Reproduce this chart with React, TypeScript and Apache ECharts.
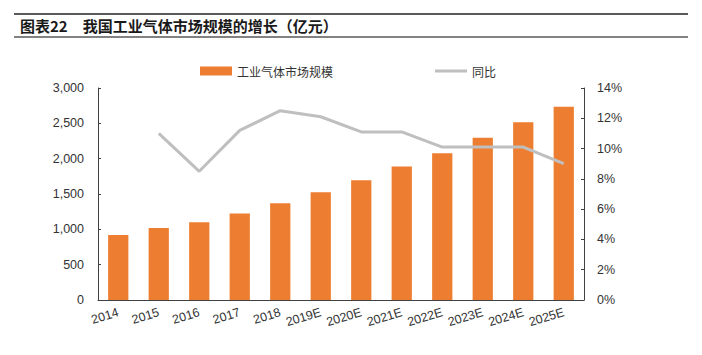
import React, { useEffect, useRef } from "react";
import * as echarts from "echarts";

const categories = ["2014", "2015", "2016", "2017", "2018", "2019E", "2020E", "2021E", "2022E", "2023E", "2024E", "2025E"];
const marketSize = [920, 1020, 1100, 1225, 1370, 1525, 1695, 1888, 2076, 2295, 2514, 2736];
const yoy = [null, 11.0, 8.5, 11.2, 12.5, 12.1, 11.1, 11.1, 10.1, 10.1, 10.1, 9.0];
const leftTicks = [0, 500, 1000, 1500, 2000, 2500, 3000];
const rightTicks = [0, 2, 4, 6, 8, 10, 12, 14];

const FONT = "'Liberation Sans', Arial, 'Noto Sans CJK SC', sans-serif";
const AXIS_COLOR = "#404040";
const LABEL_COLOR = "#333333";

export default function App() {
  const ref = useRef<HTMLDivElement>(null);
  useEffect(() => {
    const chart = echarts.init(ref.current!, null, { renderer: "svg" });
    chart.setOption({
      animation: false,
      backgroundColor: "#ffffff",
      textStyle: { fontFamily: FONT },
      graphic: [
        { type: "line", shape: { x1: 6, y1: 6, x2: 680, y2: 6 }, style: { stroke: "#595959", lineWidth: 2 } },
        { type: "line", shape: { x1: 6, y1: 29, x2: 680, y2: 29 }, style: { stroke: "#595959", lineWidth: 1.5 } },
        {
          type: "text",
          left: 12,
          top: 10,
          style: {
            text: "图表22　我国工业气体市场规模的增长（亿元）",
            font: "bold 15px 'Noto Sans CJK SC', sans-serif",
            fill: "#1a1a1a",
          },
        },
      ],
      legend: [
        {
          left: 187,
          top: 52,
          itemWidth: 32,
          itemHeight: 9,
          textStyle: { fontSize: 12, color: LABEL_COLOR, fontFamily: "'Noto Sans CJK SC', sans-serif" },
          data: [{ name: "工业气体市场规模", icon: "rect" }],
        },
        {
          left: 422,
          top: 52,
          itemWidth: 32,
          itemHeight: 3,
          textStyle: { fontSize: 12, color: LABEL_COLOR, fontFamily: "'Noto Sans CJK SC', sans-serif" },
          data: [{ name: "同比", icon: "rect" }],
        },
      ],
      grid: { left: 90, right: 110, top: 80, bottom: 47 },
      xAxis: {
        type: "category",
        data: categories,
        axisLine: { lineStyle: { color: AXIS_COLOR, width: 1 } },
        axisTick: { inside: true, length: 3, lineStyle: { color: AXIS_COLOR } },
        axisLabel: { rotate: 17, color: LABEL_COLOR, fontSize: 12.5, margin: 12, interval: 0 },
      },
      yAxis: [
        {
          type: "value",
          min: leftTicks[0],
          max: leftTicks[leftTicks.length - 1],
          interval: 500,
          splitLine: { show: false },
          axisLine: { show: true, lineStyle: { color: AXIS_COLOR } },
          axisTick: { show: true, inside: true, length: 3, lineStyle: { color: AXIS_COLOR } },
          axisLabel: {
            color: LABEL_COLOR,
            fontSize: 12.5,
            margin: 14,
            formatter: (v: number) => v.toLocaleString("en-US"),
          },
        },
        {
          type: "value",
          min: rightTicks[0],
          max: rightTicks[rightTicks.length - 1],
          interval: 2,
          splitLine: { show: false },
          axisLine: { show: true, lineStyle: { color: AXIS_COLOR } },
          axisTick: { show: true, inside: true, length: 3, lineStyle: { color: AXIS_COLOR } },
          axisLabel: { color: LABEL_COLOR, fontSize: 12.5, margin: 13, formatter: "{value}%" },
        },
      ],
      series: [
        {
          name: "工业气体市场规模",
          type: "bar",
          data: marketSize,
          barWidth: "50%",
          itemStyle: { color: "#ed7d31" },
        },
        {
          name: "同比",
          type: "line",
          yAxisIndex: 1,
          data: yoy,
          symbol: "none",
          lineStyle: { color: "#bfbfbf", width: 3 },
          itemStyle: { color: "#bfbfbf" },
        },
      ],
    });
    return () => chart.dispose();
  }, []);
  return <div ref={ref} style={{ width: 686, height: 339 }} />;
}
